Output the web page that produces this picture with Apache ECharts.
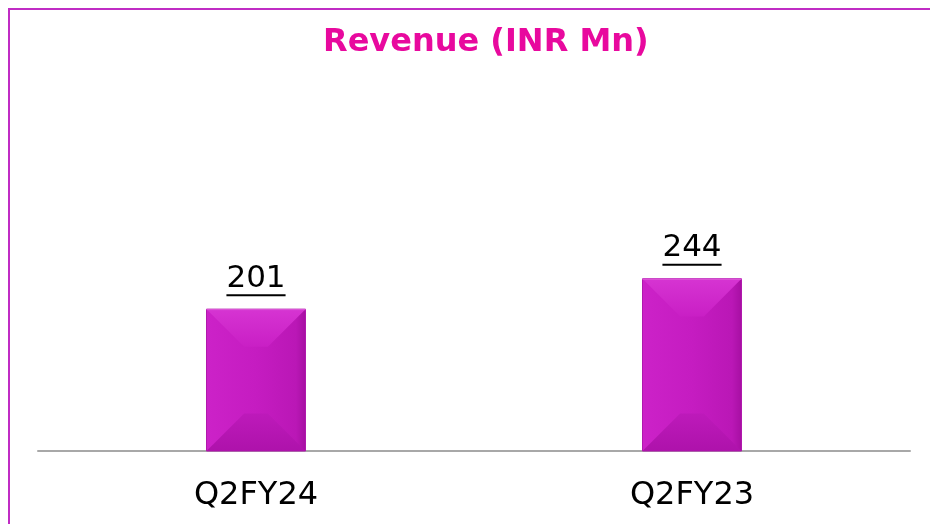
<!DOCTYPE html>
<html>
<head>
<meta charset="utf-8">
<script src="https://cdn.jsdelivr.net/npm/echarts@6/dist/echarts.min.js"></script>
<style>
  html, body { margin: 0; padding: 0; background: #fff; }
  #main { width: 930px; height: 524px; }
</style>
</head>
<body>
<div id="main"></div>
<script>
// data
var categories = ['Q2FY24', 'Q2FY23'];
var revenue = [201, 244];
var chartTitle = 'Revenue (INR Mn)';

var chart = echarts.init(document.getElementById('main'));

function grad(x, y, x2, y2, c1, c2) {
  return {
    type: 'linear', x: x, y: y, x2: x2, y2: y2,
    colorStops: [{ offset: 0, color: c1 }, { offset: 1, color: c2 }]
  };
}

// bevelled bar: body + lighter top face + darker bottom face
function renderBar(params, api) {
  var top = api.coord([api.value(0), api.value(1)]);
  var base = api.coord([api.value(0), 0]);
  var w = api.size([1, 0])[0] * 0.227;
  var x0 = top[0] - w / 2, x1 = top[0] + w / 2;
  var y0 = top[1], yb = base[1];
  var d = Math.min(w * 0.38, (yb - y0) / 2);
  return {
    type: 'group',
    children: [
      {
        type: 'rect',
        shape: { x: x0, y: y0, width: w, height: yb - y0 },
        style: {
          fill: {
            type: 'linear', x: 0, y: 0, x2: 1, y2: 0,
            colorStops: [
              { offset: 0, color: '#cc22c8' },
              { offset: 0.5, color: '#c51cc1' },
              { offset: 0.9, color: '#ba17b6' },
              { offset: 1, color: '#a60fa2' }
            ]
          },
          stroke: '#b018ac',
          lineWidth: 1
        }
      },
      {
        type: 'polygon',
        shape: { points: [[x0, y0], [x1, y0], [x1 - d, y0 + d], [x0 + d, y0 + d]] },
        style: { fill: grad(0, 0, 0, 1, '#d634d2', '#c91fc5') }
      },
      {
        type: 'polygon',
        shape: { points: [[x0, yb], [x1, yb], [x1 - d, yb - d], [x0 + d, yb - d]] },
        style: { fill: grad(0, 0, 0, 1, '#bd1aba', '#ae12ab') }
      },
      {
        type: 'line',
        shape: { x1: x0, y1: y0 + 0.5, x2: x1, y2: y0 + 0.5 },
        style: { stroke: '#dc58d8', lineWidth: 1 }
      }
    ]
  };
}

// value label with underline, drawn above each bar
function renderLabel(params, api) {
  var pt = api.coord([api.value(0), api.value(1)]);
  var txt = String(api.value(1));
  var fs = 31;
  var half = txt.length * fs * 0.636 / 2;
  return {
    type: 'group',
    children: [
      {
        type: 'text',
        style: {
          text: txt,
          x: pt[0],
          y: pt[1] - 15,
          align: 'center',
          verticalAlign: 'bottom',
          font: fs + 'px "DejaVu Sans"',
          fill: '#000'
        }
      },
      {
        type: 'line',
        shape: { x1: pt[0] - half, y1: pt[1] - 14, x2: pt[0] + half, y2: pt[1] - 14 },
        style: { stroke: '#000', lineWidth: 2 }
      }
    ]
  };
}

var option = {
  backgroundColor: '#fff',
  animation: false,
  title: {
    text: chartTitle,
    left: 318,
    top: 22,
    textStyle: {
      fontFamily: 'DejaVu Sans',
      fontWeight: 'bold',
      fontSize: 32,
      color: '#e8099e'
    }
  },
  graphic: [
    {
      type: 'polyline',
      shape: { points: [[9, 530], [9, 9], [935, 9]] },
      style: { stroke: '#c02cc4', lineWidth: 2, fill: null },
      silent: true
    }
  ],
  grid: { left: 38, right: 20, top: 204, bottom: 73 },
  xAxis: {
    type: 'category',
    data: categories,
    axisLine: { lineStyle: { color: '#a8a8a8', width: 2 } },
    axisTick: { show: false },
    axisLabel: {
      margin: 29,
      fontFamily: 'DejaVu Sans',
      fontSize: 32,
      color: '#000'
    }
  },
  yAxis: {
    type: 'value',
    min: 0,
    max: 350,
    show: false,
    splitLine: { show: false }
  },
  series: [
    {
      type: 'custom',
      renderItem: renderBar,
      data: revenue.map(function (v, i) { return [i, v]; }),
      z: 3
    },
    {
      type: 'custom',
      renderItem: renderLabel,
      data: revenue.map(function (v, i) { return [i, v]; }),
      clip: false,
      silent: true,
      z: 5
    }
  ]
};

chart.setOption(option);
</script>
</body>
</html>
